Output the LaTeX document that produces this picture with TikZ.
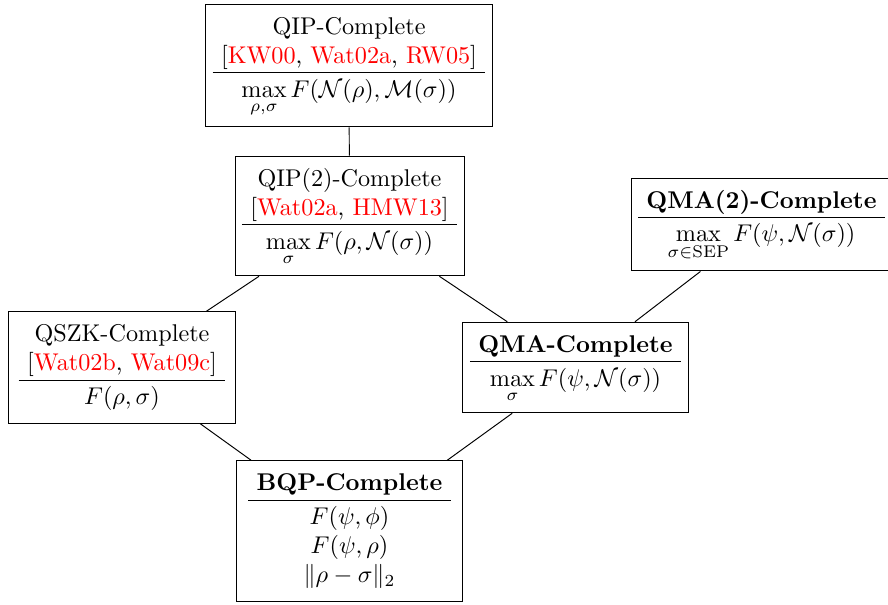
\documentclass[tikz,border=0pt]{standalone}
\usepackage{amsmath}
\setlength{\tabcolsep}{3.5pt}
\newcommand{\gapstrut}{\rule{0pt}{10pt}}
\begin{document}
\begin{tikzpicture}[x=0.413pt,y=-0.413pt,
  box/.style={draw, rectangle, inner xsep=2.8pt, inner ysep=4pt, align=center},
  wbox/.style={box, minimum width=93.7pt},
  link/.style={draw}]
\useasboundingbox (0,0) rectangle (888,604);
\node[box] (qip) at (349,65.5) {\begin{tabular}{c}QIP-Complete\\
 {[}\textcolor{red}{KW00}, \textcolor{red}{Wat02a}, \textcolor{red}{RW05}{]}\\ \hline
 \gapstrut$\max\limits_{\rho,\sigma} F(\mathcal{N}(\rho),\mathcal{M}(\sigma))$\end{tabular}};
\node[wbox] (qip2) at (349.5,216) {\begin{tabular}{c}QIP(2)-Complete\\
 {[}\textcolor{red}{Wat02a}, \textcolor{red}{HMW13}{]}\\ \hline
 \gapstrut$\max\limits_{\sigma} F(\rho,\mathcal{N}(\sigma))$\end{tabular}};
\node[box] (qma2) at (761.5,224.5) {\begin{tabular}{c}\textbf{QMA(2)-Complete}\\ \hline
 \gapstrut$\max\limits_{\sigma\in\mathrm{SEP}} F(\psi,\mathcal{N}(\sigma))$\end{tabular}};
\node[wbox] (qszk) at (122,367.5) {\begin{tabular}{c}QSZK-Complete\\
 {[}\textcolor{red}{Wat02b}, \textcolor{red}{Wat09c}{]}\\ \hline
 \gapstrut$F(\rho,\sigma)$\end{tabular}};
\node[wbox] (qma) at (575.5,367.5) {\begin{tabular}{c}\textbf{QMA-Complete}\\ \hline
 \gapstrut$\max\limits_{\sigma} F(\psi,\mathcal{N}(\sigma))$\end{tabular}};
\node[wbox] (bqp) at (349.5,531) {\begin{tabular}{c}\textbf{BQP-Complete}\\ \hline
 \gapstrut$F(\psi,\phi)$\\ $F(\psi,\rho)$\\ $\|\rho-\sigma\|_2$\end{tabular}};
\draw[link] (qip) -- (qip2);
\draw[link] (qip2) -- (qszk);
\draw[link] (qip2) -- (qma);
\draw[link] (qma2) -- (qma);
\draw[link] (qszk) -- (bqp);
\draw[link] (qma) -- (bqp);
\end{tikzpicture}
\end{document}
